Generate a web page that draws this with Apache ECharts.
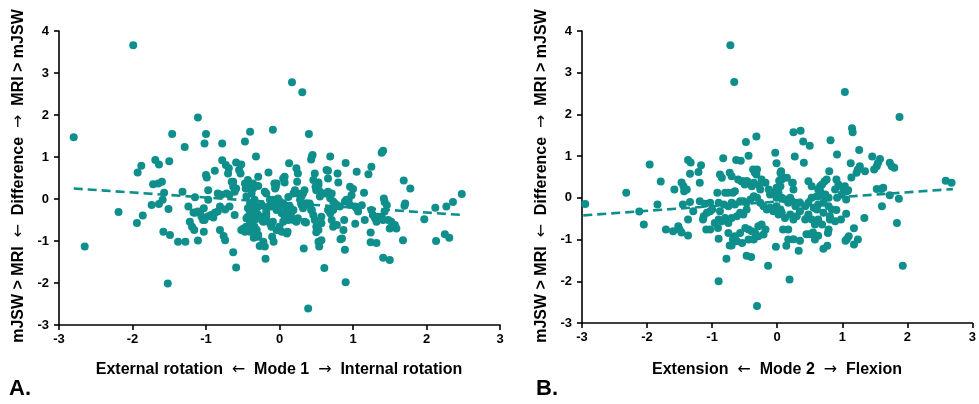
<!DOCTYPE html>
<html>
<head>
<meta charset="utf-8">
<title>Shape modes vs. joint space width difference</title>
<script src="https://cdn.jsdelivr.net/npm/echarts@6/dist/echarts.min.js"></script>
<style>
  html, body { margin: 0; padding: 0; background: #ffffff; }
  #chart { width: 979px; height: 404px; }
</style>
</head>
<body>
<div id="chart"></div>
<script>
// Axis ranges and tick values shared by both panels
const xTickValues = [-3, -2, -1, 0, 1, 2, 3];
const yTickValues = [-3, -2, -1, 0, 1, 2, 3, 4];

// Axis titles (pieces joined by arrows) and panel tags
const yTitleParts = ['mJSW > MRI  ', '  Difference  ', '  MRI > mJSW'];
const xTitleAParts = ['External rotation  ', '  Mode 1  ', '  Internal rotation'];
const xTitleBParts = ['Extension  ', '  Mode 2  ', '  Flexion'];
const panelTags = ['A.', 'B.'];

// Panel A: mode 1 score vs. difference (MRI - mJSW)
const mode1Points = [
  [-2.80,1.47],[-2.65,-1.13],[-2.19,-0.31],[-1.99,3.66],
  [-1.94,-0.57],[-1.93,0.63],[-1.88,0.79],[-1.86,-0.39],
  [-1.74,-0.14],[-1.72,0.35],[-1.69,0.93],[-1.65,0.37],[-1.64,0.82],[-1.64,-0.12],[-1.60,0.41],[-1.59,-0.02],[-1.57,0.15],[-1.58,-0.78],[-1.52,-2.01],[-1.51,-0.24],[-1.50,0.90],[-1.49,-0.86],[-1.46,1.55],
  [-1.38,-1.02],[-1.32,0.17],[-1.29,1.24],[-1.28,-1.02],[-1.24,-0.18],[-1.22,-0.54],[-1.19,-0.66],[-1.17,-0.32],[-1.16,-0.74],[-1.15,0.04],[-1.11,1.94],[-1.11,-0.99],[-1.08,-0.34],
  [-1.04,-0.50],[-1.03,-0.22],[-1.03,-0.78],[-1.02,1.32],[-1.00,1.55],[-1.00,0.57],[-0.99,0.51],[-0.97,0.21],[-0.97,-0.02],[-0.90,-0.44],[-0.88,0.67],[-0.84,-0.30],[-0.84,0.13],[-0.81,-0.74],[-0.79,0.10],[-0.78,1.32],[-0.78,0.92],[-0.76,-0.88],[-0.74,-0.98],[-0.73,0.81],[-0.72,0.13],[-0.70,0.61],[-0.69,0.73],[-0.68,0.10],
  [-0.63,-1.27],[-0.63,0.41],[-0.63,0.29],[-0.61,0.17],[-0.59,-1.63],[-0.59,0.87],[-0.55,0.69],[-0.53,0.61],[-0.52,0.82],[-0.52,-0.74],[-0.47,-0.78],[-0.47,1.37],[-0.47,0.37],[-0.46,0.25],[-0.43,0.45],[-0.43,-0.70],[-0.40,1.60],[-0.35,-0.92],[-0.32,1.01],[-0.29,-0.86],[-0.29,0.53],[-0.27,-1.12],[-0.22,-1.02],[-0.20,-1.13],[-0.19,-1.42],[-0.15,0.63],[-0.10,-0.90],[-0.09,1.65],[-0.08,-1.02],[-0.07,0.37],[-0.05,0.29],
  [0.05,0.49],[0.07,0.39],[0.11,-0.78],[0.13,0.85],[0.17,2.78],[0.23,0.73],[0.25,0.61],[0.31,2.54],[0.33,-1.18],[0.36,-0.56],[0.39,-2.61],[0.40,1.55],[0.44,1.01],[0.45,1.05],[0.46,0.45],[0.48,0.61],[0.50,-0.79],[0.53,-1.02],[0.54,-1.13],[0.57,-0.98],[0.61,-1.64],[0.66,0.67],[0.69,1.01],[0.79,0.61],[0.80,0.39],[0.83,-0.96],[0.85,-0.94],[0.87,-0.74],[0.88,-0.50],[0.89,-1.21],[0.90,0.86],[0.90,-1.98],[0.96,0.29],[1.00,0.24],[1.03,-0.59],[1.05,0.65],[1.15,0.15],[1.21,0.59],[1.24,-0.80],[1.24,-1.03],[1.25,0.77],[1.32,-1.05],[1.39,1.10],[1.41,1.15],[1.41,-1.40],[1.50,-1.45],[1.69,0.44],[1.70,-0.16],[1.71,-0.11],[1.68,-0.98],[1.78,0.25],[1.97,-0.48],[2.12,-0.21],[2.13,-1.00],[2.25,-0.84],[2.27,-0.18],[2.31,-0.92],[2.36,-0.07],[2.48,0.12],
  [-0.43,0.29],[-0.36,0.25],[-0.38,0.13],[-0.45,0.06],[-0.34,-0.02],[-0.40,-0.10],[-0.43,-0.22],[-0.36,-0.26],[-0.29,-0.18],[-0.31,-0.34],[-0.27,-0.42],[-0.36,-0.42],[-0.43,-0.42],[-0.40,-0.54],[-0.45,-0.66],[-0.34,-0.66],[-0.31,-0.74],[-0.22,-0.54],[-0.20,-0.42],[-0.18,-0.34],[-0.15,-0.18],[-0.13,-0.02],[-0.18,0.13],[-0.20,0.17],
  [-0.09,-0.02],[-0.04,-0.06],[-0.06,-0.18],[-0.04,-0.26],[0.00,-0.06],[0.00,-0.18],[0.05,-0.10],[0.03,-0.34],[0.07,-0.42],[0.10,-0.26],[0.14,-0.18],[0.16,-0.34],[0.19,-0.26],[0.05,-0.54],[0.00,-0.66],[0.03,-0.78],[0.10,-0.82],[-0.04,-0.74],[-0.11,-0.66],[-0.09,-0.54],[0.12,-0.50],[0.19,-0.50],[0.25,-0.46],[0.23,-0.54],
  [0.28,-0.02],[0.30,0.06],[0.32,0.13],[0.34,0.21],[0.25,0.13],[0.30,-0.14],[0.32,-0.22],[0.37,-0.10],[0.41,-0.14],[0.44,-0.26],[0.46,-0.38],[0.48,-0.50],[0.50,0.21],[0.53,0.33],[0.55,0.17],[0.55,0.06],[0.62,0.13],[0.66,0.17],[0.71,0.13],[0.69,0.02],[0.73,-0.06],[0.75,-0.10],[0.78,-0.14],[0.82,-0.18],[0.89,-0.06],[0.94,-0.02],[0.96,-0.14],[1.03,-0.18],[1.05,-0.22],
  [0.66,-0.26],[0.69,-0.34],[0.73,-0.26],[0.71,-0.50],[0.73,-0.66],[0.78,-0.62],[0.57,-0.42],[0.57,-0.58],[0.50,-0.66],[0.53,-0.74],[0.19,0.13],[0.21,0.21],
  [-1.15,-0.33],[-1.11,-0.30],[-1.06,-0.42],[-1.02,-0.50],[-0.97,-0.41],[-0.93,-0.38],[-0.88,-0.33],[-0.81,-0.18],[-0.74,-0.25],[-0.68,-0.18],[-0.61,-0.38],[-0.49,-0.70],[-0.45,-0.66],[-0.40,-0.78],[-0.36,-0.73],[-0.29,-0.90],[-0.45,-0.46],[-0.40,-0.34],[-0.34,-0.50],[-0.29,-0.38],[-0.24,-0.50],[-0.18,-0.42],[-0.13,-0.58],[-0.38,-0.11],[-0.31,-0.18],[-0.24,-0.15],[-0.18,-0.26],[-0.11,-0.18],[-0.04,-0.11],[-0.02,0.01],[0.05,-0.15],[0.12,0.05],[-0.36,0.37],[-0.29,0.31],[-0.04,0.37],[-0.06,0.25],[-0.65,0.41],[-0.59,0.25],
  [0.43,0.94],[0.64,0.69],[0.66,0.49],[0.24,0.41],[0.07,0.53],[0.53,0.39],[0.49,0.29],[0.98,0.09],[0.91,-0.02],[0.41,-0.11],[0.43,-0.26],[0.34,-0.54],[1.07,-0.30],[1.12,-0.15],[1.16,-0.50],[1.52,-0.54],[1.57,-0.62],[1.59,-0.70],[1.50,-0.70],
  [1.25,-0.26],[1.27,-0.38],[1.30,-0.46],[1.32,-0.54],[1.34,-0.42],[1.39,-0.42],[1.41,-0.50],[1.43,-0.30],[1.48,-0.50],[1.46,-0.15],[1.42,0.01],[1.43,-0.07]
];

// Panel B: mode 2 score vs. difference (MRI - mJSW)
const mode2Points = [
  [-0.72,3.66],[-0.66,2.78],[1.04,2.54],[1.88,1.94],[-2.95,-0.15],[-2.32,0.12],[-1.96,0.80],[-1.79,0.39],[-2.05,-0.64],[-2.12,-0.33],[-1.84,-0.16],[-1.71,-0.76],[-1.58,0.20],[-1.60,-0.80],
  [-1.47,0.37],[-1.44,0.28],[-1.43,0.16],[-1.39,0.20],[-1.37,0.91],[-1.33,0.85],[-1.34,0.58],[-1.21,0.62],[-1.17,0.78],[-1.19,0.36],[-1.45,-0.16],[-1.34,-0.10],[-1.29,-0.32],[-1.19,-0.08],[-1.11,-0.14],[-1.03,-0.12],[-1.37,-0.52],[-1.52,-0.68],[-1.50,-0.76],[-1.47,-0.83],[-1.37,-0.90],
  [-1.14,-0.52],[-1.09,-0.76],[-1.03,-0.76],[-1.03,-0.32],[-0.96,-0.60],[-0.91,-0.72],[-0.90,-0.98],[-0.90,-2.00],[-0.78,-1.46],[-0.73,-1.14],[-0.68,-0.99],[-0.83,0.95],[-0.88,0.56],[-0.85,0.48],[-0.73,0.60],[-0.70,0.52],[-0.63,0.91],[-0.56,0.89],
  [-0.92,0.12],[-0.80,0.12],[-0.75,0.12],[-0.68,0.12],[-0.60,0.44],[-0.55,0.40],[-0.50,0.32],[-0.46,0.40],[-0.48,1.34],[-0.44,1.01],[-0.32,1.47],[-0.37,0.68],[-0.34,0.60],[-0.32,0.56],[-0.28,0.30],[-0.14,-1.63],[-0.31,-2.59],[-0.47,-1.39],[-0.40,-1.42],[-0.02,-1.17],
  [-0.03,1.08],[-0.01,0.83],[0.06,0.64],[0.07,0.52],[0.03,0.41],[0.25,1.57],[0.36,1.61],[0.40,1.35],[0.50,1.25],[0.27,0.99],[0.41,0.84],[0.24,0.36],[0.66,0.28],[0.73,0.40],[0.66,0.16],[0.63,0.04],[0.82,1.38],[0.92,1.04],[0.80,0.64],[0.91,0.44],[0.94,0.32],[1.01,0.24],[1.09,0.18],
  [1.15,1.67],[1.16,1.57],[1.26,1.15],[1.13,0.83],[1.14,0.49],[1.22,0.60],[1.27,0.76],[1.24,0.68],[1.35,0.64],[1.46,0.99],[1.49,0.68],[1.53,0.76],[1.55,0.84],[1.58,0.93],[1.73,0.84],[1.76,0.76],[1.80,0.72],[1.53,0.21],[1.60,0.21],[1.63,0.24],[1.73,0.06],[1.87,-0.02],[1.61,-0.20],[1.84,-0.60],[1.93,-1.63],
  [1.34,-0.48],[1.18,-0.73],[1.07,-0.99],[1.10,-0.92],[1.05,-1.03],[1.18,-1.12],[1.24,-1.00],[0.91,-0.29],[0.98,-0.52],[1.06,-0.38],[1.06,-0.04],[0.79,-0.76],[0.78,-0.84],[0.77,-1.15],[0.71,-1.22],[0.81,-0.52],[2.59,0.41],[2.68,0.36],
  [0.17,-0.76],[0.09,-0.76],[0.14,-1.15],[0.19,-1.96],[0.33,-1.27],[0.25,-0.99],[0.35,-1.03],[0.45,-0.87],[0.50,-0.87],[0.55,-0.83],[0.63,-0.91],
  [0.89,-0.56],[0.81,-0.44],[0.58,-1.00],[0.46,-0.48],[0.92,0.00],[0.89,0.20],[1.04,0.28],[1.07,0.16],[0.99,0.08],[0.79,0.00],[0.74,0.08],[0.76,0.44],[0.69,0.32],[0.63,0.20],[0.61,0.04],[0.53,0.00],[0.48,-0.12],[0.43,-0.20],[0.35,-0.12],[0.28,-0.20],[0.23,-0.08],[0.20,0.00],[0.17,-0.12],[0.12,-0.04],[0.07,0.00],[0.02,0.12],[-0.01,0.00],
  [0.05,-0.28],[0.02,-0.40],[0.07,-0.36],[0.12,-0.48],[0.20,-0.40],[0.25,-0.52],[0.30,-0.44],[0.35,-0.32],[0.43,-0.52],[0.48,-0.40],[0.53,-0.52],[0.58,-0.64],[0.63,-0.52],[0.69,-0.64],[0.71,-0.36],[0.61,-0.28],[0.56,-0.24],[0.63,-0.16],[0.71,-0.12],[0.79,-0.20],[0.84,-0.28],[0.48,0.40],[0.53,0.28],[0.23,0.36],[0.25,0.20],[0.05,0.28],[0.07,0.44],[0.15,0.48],[0.05,0.60],[0.17,-1.00],
  [-1.08,-0.36],[-1.00,-0.28],[-0.90,-0.52],[-1.13,-0.44],[-0.65,0.16],[-0.52,0.40],[-0.47,0.40],[-0.39,0.28],[-0.36,0.36],[-0.34,0.60],[-0.31,0.68],[-0.26,0.20],[-0.24,0.44],[-0.18,0.36],[-0.13,0.20],[-0.11,0.08],[-0.06,0.12],[-0.01,0.24],
  [-0.88,-0.32],[-0.85,-0.56],[-0.80,-0.48],[-0.75,-0.60],[-0.70,-0.48],[-0.62,-0.44],[-0.57,-0.36],[-0.52,-0.40],[-0.47,-0.28],[-0.90,-0.12],[-0.82,-0.16],[-0.75,-0.20],[-0.70,-0.12],[-0.65,-0.16],[-0.57,-0.08],[-0.52,-0.08],[-0.47,-0.12],[-0.41,-0.04],[-0.36,0.04],[-0.31,0.00],[-0.26,-0.12],[-0.21,-0.20],[-0.16,-0.28],[-0.11,-0.24],[-0.06,-0.32],[-0.01,-0.20],
  [-0.75,-0.84],[-0.65,-0.92],[-0.57,-0.84],[-0.49,-0.72],[-0.44,-0.76],[-0.39,-0.80],[-0.34,-0.84],[-0.29,-0.68],[-0.24,-0.64],[-0.18,-0.76],[-0.21,-0.88],[-0.29,-0.92],[-0.36,-1.00],[-0.44,-1.00],[-0.54,-1.08],[-0.62,-1.04],[-0.70,-1.14]
];

// Fitted regression lines (end points)
const trendA = [[-2.80, 0.25], [2.48, -0.38]];
const trendB = [[-2.98, -0.42], [2.70, 0.21]];

const teal = '#0e8f8c';
const fontFamily = '"Liberation Sans", Arial, sans-serif';
const arrowFamily = '"DejaVu Sans", sans-serif';

function makeXAxis(gridIndex) {
  return {
    gridIndex: gridIndex,
    type: 'value',
    min: xTickValues[0],
    max: xTickValues[xTickValues.length - 1],
    interval: 1,
    axisLine: { show: true, onZero: false, lineStyle: { color: '#000', width: 1.6 } },
    axisTick: { show: true, length: 5, lineStyle: { color: '#000', width: 1.6 } },
    axisLabel: { color: '#000', fontWeight: 'bold', fontSize: 13, fontFamily: fontFamily, margin: 8 },
    splitLine: { show: false }
  };
}

function makeYAxis(gridIndex) {
  return {
    gridIndex: gridIndex,
    type: 'value',
    min: yTickValues[0],
    max: yTickValues[yTickValues.length - 1],
    interval: 1,
    axisLine: { show: true, onZero: false, lineStyle: { color: '#000', width: 1.6 } },
    axisTick: { show: true, length: 5, lineStyle: { color: '#000', width: 1.6 } },
    axisLabel: { color: '#000', fontWeight: 'bold', fontSize: 13, fontFamily: fontFamily, margin: 10 },
    splitLine: { show: false }
  };
}

function scatterSeries(idx, points) {
  return {
    type: 'scatter',
    xAxisIndex: idx,
    yAxisIndex: idx,
    data: points,
    symbol: 'circle',
    symbolSize: 8,
    itemStyle: { color: teal, opacity: 1 },
    z: 2,
    silent: true
  };
}

function trendSeries(idx, points) {
  return {
    type: 'line',
    xAxisIndex: idx,
    yAxisIndex: idx,
    data: points,
    symbol: 'none',
    lineStyle: { color: teal, width: 2.6, type: [9, 5] },
    z: 3,
    silent: true
  };
}

// Title built from three word groups joined by a left and a right arrow
function arrowTitle(parts, x, y, size, rot) {
  return {
    type: 'text',
    x: x,
    y: y,
    rotation: rot || 0,
    style: {
      text: '{w|' + parts[0] + '}{a|\u2190}{w|' + parts[1] + '}{a|\u2192}{w|' + parts[2] + '}',
      rich: {
        w: { fontFamily: fontFamily, fontWeight: 'bold', fontSize: size, fill: '#000', color: '#000' },
        a: { fontFamily: arrowFamily, fontWeight: 'normal', fontSize: size, fill: '#000', color: '#000' }
      },
      fill: '#000',
      align: 'center',
      verticalAlign: 'middle',
      textAlign: 'center',
      textVerticalAlign: 'middle'
    }
  };
}

function tagText(str, x, y, size) {
  return {
    type: 'text',
    x: x,
    y: y,
    style: {
      text: str,
      font: 'bold ' + size + 'px ' + fontFamily,
      fill: '#000',
      align: 'center',
      verticalAlign: 'middle',
      textAlign: 'center',
      textVerticalAlign: 'middle'
    }
  };
}

const chart = echarts.init(document.getElementById('chart'), null, { renderer: 'canvas' });
chart.setOption({
  animation: false,
  backgroundColor: '#ffffff',
  grid: [
    { left: 59, top: 31, width: 441, height: 294 },
    { left: 582, top: 31, width: 391, height: 292 }
  ],
  xAxis: [makeXAxis(0), makeXAxis(1)],
  yAxis: [makeYAxis(0), makeYAxis(1)],
  series: [
    scatterSeries(0, mode1Points),
    trendSeries(0, trendA),
    scatterSeries(1, mode2Points),
    trendSeries(1, trendB)
  ],
  graphic: [
    arrowTitle(yTitleParts, 19, 176, 16, Math.PI / 2),
    arrowTitle(xTitleAParts, 279, 370, 16),
    tagText(panelTags[0], 20, 389, 22),
    arrowTitle(yTitleParts, 542, 176, 16, Math.PI / 2),
    arrowTitle(xTitleBParts, 777, 370, 16),
    tagText(panelTags[1], 547, 389, 22)
  ]
});
</script>
</body>
</html>
